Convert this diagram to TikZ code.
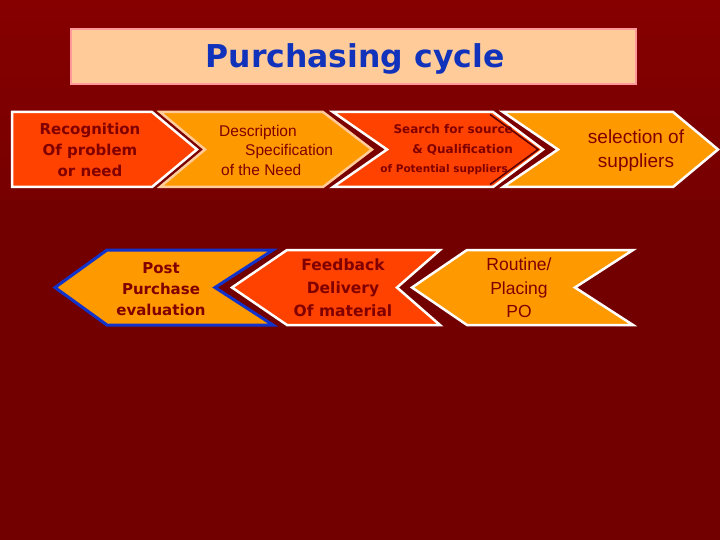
\documentclass[tikz,border=0pt]{standalone}
\usepackage{fontspec}
\setmainfont{Liberation Sans}
\newfontfamily\verdfont{DejaVu Sans}
\definecolor{bgred}{HTML}{720000}
\definecolor{bgtop}{HTML}{860000}
\definecolor{ink}{HTML}{800000}
\definecolor{orangefill}{HTML}{FF9900}
\definecolor{redfill}{HTML}{FF4200}
\definecolor{peach}{HTML}{FFCC99}
\definecolor{rose}{HTML}{FF9999}
\definecolor{titleblue}{HTML}{1133BB}
\definecolor{edgeblue}{HTML}{1133CC}
\definecolor{shadow}{HTML}{5A0000}

\begin{document}
\begin{tikzpicture}[x=1pt,y=-1pt,
  chevred/.style={fill=redfill,draw=white,line width=2.5pt,line join=miter},
  chevorange/.style={fill=orangefill,draw=white,line width=2.5pt,line join=miter},
  boldtext/.style={text=ink,align=center,inner sep=0pt,
    font=\verdfont\bfseries\fontsize{15}{21}\selectfont},
  plaintext/.style={text=ink,inner sep=0pt,font=\fontsize{15.5}{19.5}\selectfont}]
\useasboundingbox (0,0) rectangle (720,540);
\shade[top color=bgtop,bottom color=bgred,middle color=bgred] (0,0) rectangle (720,540);
\fill[bgred] (0,200) rectangle (720,540);

% title
\node[fill=peach,draw=rose,line width=2pt,minimum width=565pt,minimum height=55pt,
  inner sep=0pt] (title) at (353.5,56.5) {};
\node[text=titleblue,inner sep=0pt,font=\verdfont\bfseries\fontsize{31.5}{36}\selectfont]
  (titletext) at (355,59) {Purchasing cycle};

% upper row, pointing right
\draw[chevred] (12,112) -- (152,112) -- (197,149.5) -- (152,187) -- (12,187) -- cycle;
\draw[chevorange,draw=peach] (160,112) -- (323,112) -- (372,149.5) -- (323,187)
  -- (160,187) -- (205,149.5) -- cycle;
\draw[chevred] (333,112) -- (493,112) -- (543,149.5) -- (493,187) -- (333,187)
  -- (387,149.5) -- cycle;
\draw[shadow,line width=1.5pt] (490,114.5) -- (538,149.5) -- (490,184.5);
\draw[chevorange] (503,112) -- (673,112) -- (718,149.5) -- (673,187) -- (503,187)
  -- (558,149.5) -- cycle;

% lower row, pointing left
\draw[chevorange,draw=edgeblue,line width=3pt] (55,287.5) -- (107,250) -- (273,250)
  -- (215,287.5) -- (273,325) -- (107,325) -- cycle;
\draw[chevred] (232,287.5) -- (287,250) -- (440,250) -- (397,287.5) -- (440,325)
  -- (287,325) -- cycle;
\draw[chevorange] (412,287.5) -- (467,250) -- (633,250) -- (575,287.5) -- (633,325)
  -- (467,325) -- cycle;

\node[boldtext] (recog) at (90,150) {Recognition\\Of problem\\or need};
\node[plaintext,anchor=west,align=left] (descr) at (219,150)
  {Description\\\hspace*{26pt}Specification\\\hspace*{2pt}of the Need};
\node[boldtext,anchor=east,align=right,font=\verdfont\bfseries\fontsize{12}{19.5}\selectfont]
  (search) at (513,150)
  {Search for source\\\&~Qualification\\{\fontsize{10.5}{19.5}\selectfont of Potential suppliers\hspace*{5pt}}};
\node[plaintext,align=center,font=\fontsize{19}{24}\selectfont] (select) at (636,151)
  {selection of\\suppliers};
\node[boldtext] (postpur) at (161,289) {Post\\Purchase\\evaluation};
\node[boldtext,font=\verdfont\bfseries\fontsize{15.5}{23}\selectfont] (feedback) at (343,288)
  {Feedback\\Delivery\\Of material};
\node[plaintext,align=center,font=\fontsize{17.5}{23.5}\selectfont] (routine) at (519,288)
  {Routine/\\Placing\\PO};
\end{tikzpicture}
\end{document}
